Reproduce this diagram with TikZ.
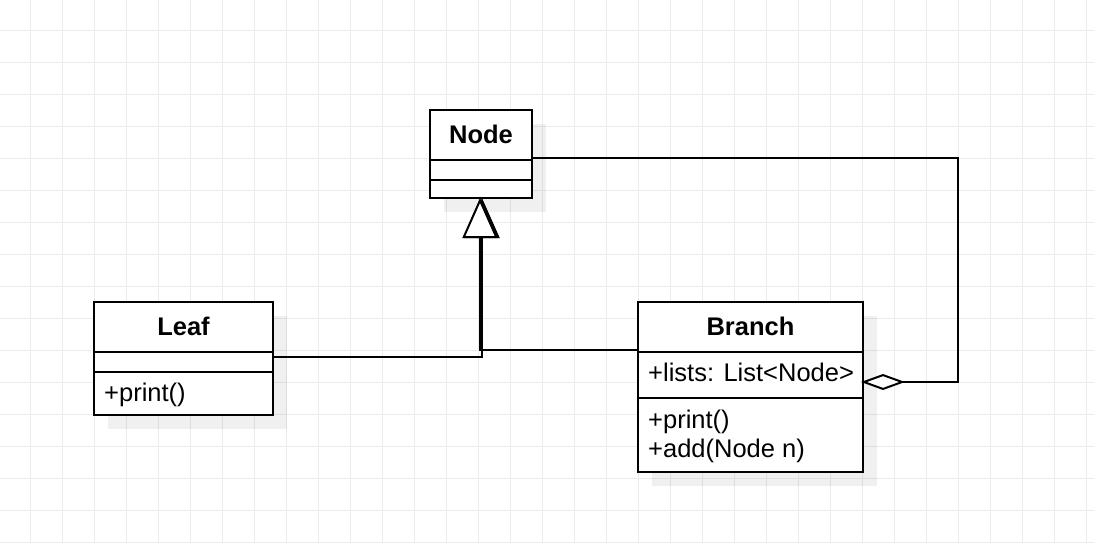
\documentclass[tikz,border=0pt]{standalone}
\usepackage{fontspec}
\setmainfont{Liberation Sans}
\usetikzlibrary{arrows.meta}

\definecolor{gridgray}{HTML}{EBEBEB}

\tikzset{
  gridline/.style={draw=gridgray, line width=1pt},
  shadowbox/.style={fill=black, fill opacity=0.06, draw=none},
  umlbox/.style={draw, line width=2pt, fill=white, inner sep=0pt, outer sep=0pt, anchor=north west},
  divider/.style={line width=2pt},
  title/.style={anchor=base, font=\bfseries\fontsize{25.5}{29}\selectfont, inner sep=0pt},
  member/.style={anchor=base west, font=\fontsize{25.5}{29}\selectfont, inner sep=0pt},
  inherit/.style={line width=2pt, -{Triangle[length=40pt, width=35pt, fill=white]}},
  aggregate/.style={line width=2pt, -{Diamond[length=44pt, width=16pt, fill=white]}},
}

\begin{document}
\begin{tikzpicture}[x=1pt, y=-1pt]
  \useasboundingbox (0,0) rectangle (1094,542);

  % background grid
  \foreach \g in {30,62,...,1094} \draw[gridline] (\g,0) -- (\g,542);
  \foreach \g in {30,62,...,542} \draw[gridline] (0,\g) -- (1094,\g);

  % drop shadows
  \fill[shadowbox] (444,124) rectangle (546,212);
  \fill[shadowbox] (108,316) rectangle (287,429);
  \fill[shadowbox] (652,316) rectangle (877,486);

  % class Node
  \node[umlbox, minimum width=102, minimum height=88] (Node) at (430,110) {};
  \draw[divider] ([yshift=-50]Node.north west) -- ([yshift=-50]Node.north east);
  \draw[divider] ([yshift=-70]Node.north west) -- ([yshift=-70]Node.north east);
  \node[title] (NodeT) at (481,143) {Node};

  % class Leaf
  \node[umlbox, minimum width=179, minimum height=113] (Leaf) at (94,302) {};
  \draw[divider] ([yshift=-50]Leaf.north west) -- ([yshift=-50]Leaf.north east);
  \draw[divider] ([yshift=-70]Leaf.north west) -- ([yshift=-70]Leaf.north east);
  \node[title] (LeafT) at (183.5,335) {Leaf};
  \node[member] (LeafM) at (104,401) {+print()};

  % class Branch
  \node[umlbox, minimum width=225, minimum height=170] (Branch) at (638,302) {};
  \draw[divider] ([yshift=-50]Branch.north west) -- ([yshift=-50]Branch.north east);
  \draw[divider] ([yshift=-96]Branch.north west) -- ([yshift=-96]Branch.north east);
  \node[title] (BranchT) at (750.5,335) {Branch};
  \node[member] (BranchA) at (648,381) {+lists: List<Node>};
  \node[member] (BranchM1) at (648,428) {+print()};
  \node[member] (BranchM2) at (648,457) {+add(Node n)};

  % generalisations
  \draw[inherit] ([yshift=1.5]Leaf.east) -| ([xshift=1]Node.south);
  \draw[inherit] ([yshift=-48]Branch.north west) -| ([xshift=-1]Node.south);

  % aggregation
  \coordinate (aggcorner) at (958,382);
  \draw[aggregate] ([yshift=-4]Node.east) -| (aggcorner) -- ([xshift=-2,yshift=5]Branch.east);
\end{tikzpicture}
\end{document}
